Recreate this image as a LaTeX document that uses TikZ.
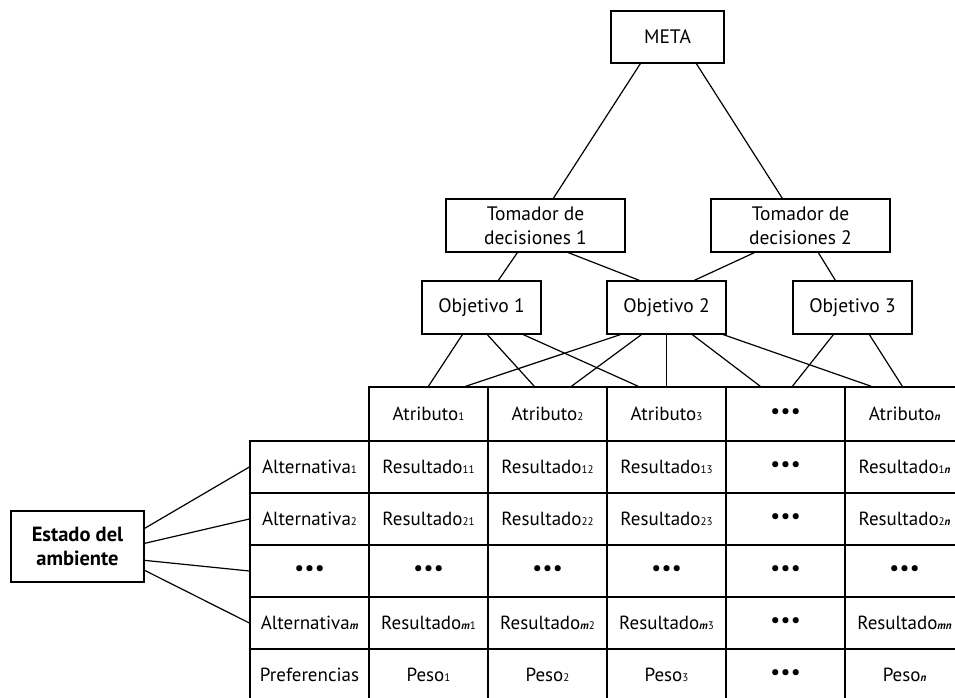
\documentclass[tikz,border=0pt]{standalone}
\usepackage{fontspec}
\setmainfont{PT Sans}
\usetikzlibrary{calc}
\newcommand{\sbs}[1]{{\fontsize{11}{11}\selectfont #1}}
\newcommand{\sbi}[1]{{\fontsize{11}{11}\selectfont\bfseries\itshape #1}}
\newcommand{\ddd}{{\fontsize{22}{22}\selectfont •\kern0.3pt•\kern0.3pt•}}
\begin{document}
\begin{tikzpicture}[x=1pt,y=-1pt,line width=1.3pt,
  box/.style={draw,inner sep=0pt,align=center,font=\fontsize{19.5}{24}\selectfont},
  cell/.style={draw,inner sep=0pt,minimum width=119pt,minimum height=52pt,font=\fontsize{19}{22}\selectfont},
  hcell/.style={cell,minimum height=54pt},
  link/.style={line width=1.2pt}]
\useasboundingbox (0,0) rectangle (955,698);
\clip (0,0) rectangle (955,698);
% hierarchy
\node[box,minimum width=113pt,minimum height=52pt] (meta) at (667.5,37) {META};
\node[box,minimum width=179pt,minimum height=53pt] (tom1) at (535.5,225.5) {Tomador de\\decisiones 1};
\node[box,minimum width=179pt,minimum height=53pt] (tom2) at (800.5,225.5) {Tomador de\\decisiones 2};
\node[box,minimum width=119pt,minimum height=53pt] (obj1) at (481.5,307.5) {Objetivo 1};
\node[box,minimum width=119pt,minimum height=53pt] (obj2) at (666.5,307.5) {Objetivo 2};
\node[box,minimum width=119pt,minimum height=53pt] (obj3) at (852.5,307.5) {Objetivo 3};
\node[box,minimum width=133pt,minimum height=71pt,font=\fontsize{20.5}{24}\selectfont\bfseries] (estado) at (77.5,546.5) {Estado del\\ambiente};
% table header
\node[hcell] (h1) at (428.5,414) {Atributo\sbs{1}};
\node[hcell] (h2) at (547.5,414) {Atributo\sbs{2}};
\node[hcell] (h3) at (666.5,414) {Atributo\sbs{3}};
\node[hcell] (h4) at (785.5,414) {\ddd};
\node[hcell] (h5) at (904.5,414) {Atributo\sbi{n}};
% row 1
\node[cell] (alt1) at (309.5,467) {Alternativa\sbs{1}};
\node[cell] (r11) at (428.5,467) {Resultado\sbs{11}};
\node[cell] (r12) at (547.5,467) {Resultado\sbs{12}};
\node[cell] (r13) at (666.5,467) {Resultado\sbs{13}};
\node[cell] (r14) at (785.5,467) {\ddd};
\node[cell] (r15) at (904.5,467) {Resultado\sbs{1}\sbi{n}};
% row 2
\node[cell] (alt2) at (309.5,519) {Alternativa\sbs{2}};
\node[cell] (r21) at (428.5,519) {Resultado\sbs{21}};
\node[cell] (r22) at (547.5,519) {Resultado\sbs{22}};
\node[cell] (r23) at (666.5,519) {Resultado\sbs{23}};
\node[cell] (r24) at (785.5,519) {\ddd};
\node[cell] (r25) at (904.5,519) {Resultado\sbs{2}\sbi{n}};
% row 3
\node[cell] (altd) at (309.5,571) {\ddd};
\node[cell] (rd1) at (428.5,571) {\ddd};
\node[cell] (rd2) at (547.5,571) {\ddd};
\node[cell] (rd3) at (666.5,571) {\ddd};
\node[cell] (rd4) at (785.5,571) {\ddd};
\node[cell] (rd5) at (904.5,571) {\ddd};
% row 4
\node[cell] (altm) at (309.5,623) {Alternativa\sbi{m}};
\node[cell] (rm1) at (428.5,623) {Resultado\sbi{m}\sbs{1}};
\node[cell] (rm2) at (547.5,623) {Resultado\sbi{m}\sbs{2}};
\node[cell] (rm3) at (666.5,623) {Resultado\sbi{m}\sbs{3}};
\node[cell] (rm4) at (785.5,623) {\ddd};
\node[cell] (rm5) at (904.5,623) {Resultado\sbi{mn}};
% row 5
\node[cell] (pref) at (309.5,675) {Preferencias};
\node[cell] (p1) at (428.5,675) {Peso\sbs{1}};
\node[cell] (p2) at (547.5,675) {Peso\sbs{2}};
\node[cell] (p3) at (666.5,675) {Peso\sbs{3}};
\node[cell] (p4) at (785.5,675) {\ddd};
\node[cell] (p5) at (904.5,675) {Peso\sbi{n}};
% connectors: meta
\draw[link] ([xshift=30pt]meta.south west) -- ([xshift=108pt]tom1.north west);
\draw[link] ([xshift=86pt]meta.south west) -- ([xshift=72pt]tom2.north west);
% tomadores
\draw[link] ([xshift=72pt]tom1.south west) -- ([xshift=77pt]obj1.north west);
\draw[link] ([xshift=123pt]tom1.south west) -- ([xshift=33pt]obj2.north west);
\draw[link] ([xshift=44pt]tom2.south west) -- ([xshift=88pt]obj2.north west);
\draw[link] ([xshift=108pt]tom2.south west) -- ([xshift=43pt]obj3.north west);
% objetivos
\draw[link] ([xshift=41pt]obj1.south west) -- ([xshift=60pt]h1.north west);
\draw[link] ([xshift=66pt]obj1.south west) -- ([xshift=47pt]h2.north west);
\draw[link] ([xshift=102pt]obj1.south west) -- ([xshift=32pt]h3.north west);
\draw[link] ([xshift=14pt]obj2.south west) -- ([xshift=97pt]h1.north west);
\draw[link] ([xshift=35pt]obj2.south west) -- ([xshift=84pt]h2.north west);
\draw[link] ([xshift=60pt]obj2.south west) -- ([xshift=60pt]h3.north west);
\draw[link] ([xshift=86pt]obj2.south west) -- ([xshift=35pt]h4.north west);
\draw[link] ([xshift=117pt]obj2.south west) -- ([xshift=27pt]h5.north west);
\draw[link] ([xshift=41pt]obj3.south west) -- ([xshift=67pt]h4.north west);
\draw[link] ([xshift=77pt]obj3.south west) -- ([xshift=58pt]h5.north west);
% estado
\draw[link] ([yshift=-18pt]estado.north east) -- (alt1.west);
\draw[link] ([yshift=-33pt]estado.north east) -- (alt2.west);
\draw[link] ([yshift=-50pt]estado.north east) -- (altd.west);
\draw[link] ([yshift=-60pt]estado.north east) -- (altm.west);
\end{tikzpicture}
\end{document}
